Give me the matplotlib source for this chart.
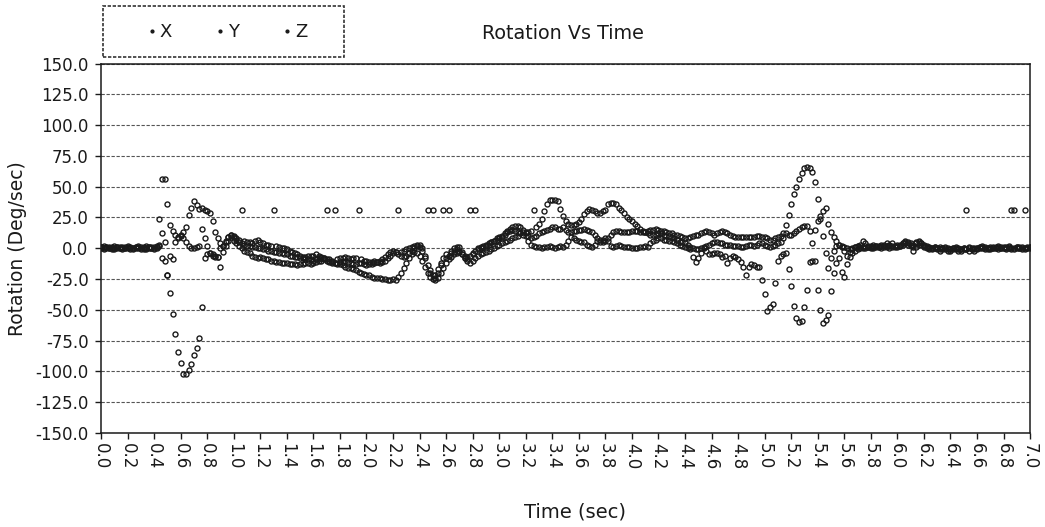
import numpy as np
import matplotlib.pyplot as plt
from matplotlib.lines import Line2D
from matplotlib.patches import Rectangle

# Gyro rotation rates, sampled every 0.02 s from 0.0 to 7.0 s
dt = 0.02
rot_x = [
    1, 0, 1, 1, 0, -1, 0, 1, 0, 0,
    1, 0, -1, 0, 1, 1, 0, -1, 0, 1,
    0, 1, 2, 12, 5, -22, -36, -53, -70, -84,
    -93, -102, -102, -99, -94, -87, -81, -73, -48, -8,
    -5, -4, -6, -7, -7, -15, -3, 2, 6, 9,
    6, 4, 2, 0, -2, -3, -4, -6, -7, -8,
    -7, -8, -9, -9, -10, -10, -11, -11, -12, -12,
    -12, -13, -13, -13, -14, -13, -13, -12, -12, -13,
    -12, -11, -10, -10, -9, -10, -11, -12, -12, -13,
    -13, -14, -15, -16, -16, -17, -18, -19, -20, -21,
    -22, -22, -23, -24, -24, -24, -25, -25, -26, -26,
    -25, -26, -23, -20, -16, -12, -8, -5, -3, -4,
    -6, -10, -15, -20, -23, -25, -26, -24, -20, -16,
    -12, -9, -7, -5, -4, -3, -5, -8, -10, -12,
    -10, -8, -6, -5, -4, -3, -2, -1, 0, 2,
    3, 4, 5, 6, 7, 8, 9, 10, 12, 13,
    10, 6, 3, 2, 1, 1, 0, 1, 1, 2,
    1, 0, 1, 2, 1, 3, 6, 9, 8, 7,
    6, 5, 5, 3, 2, 1, 3, 6, 7, 7,
    8, 6, 2, 1, 2, 3, 2, 1, 1, 1,
    0, 0, 0, 1, 1, 2, 1, 4, 6, 7,
    8, 8, 7, 7, 6, 6, 5, 4, 3, 2,
    1, 0, -1, -7, -11, -8, -4, 0, -2, -5,
    -5, -4, -4, -5, -7, -6, -12, -8, -6, -7,
    -9, -11, -15, -22, -15, -13, -14, -15, -15, -26,
    -37, -51, -48, -45, -28, -10, -6, -5, -4, -17,
    -31, -47, -57, -60, -59, -48, -34, -11, -10, -10,
    -34, -50, -61, -58, -54, -35, -20, -12, -8, -19,
    -23, -13, -7, -4, -2, -1, 0, 1, 0, 1,
    0, 1, 2, 1, 0, 1, 2, 3, 2, 1,
    2, 3, 4, 5, 4, 3, -2, 1, 3, 4,
    3, 2, 1, 0, 1, 0, -1, 0, 1, 0,
    -1, 0, -1, -2, -1, 0, -1, -2, -1, 0,
    0, 1, 0, -1, 0, 1, 0, 0, -1, 0,
    1, 0, 0, -1, 0, 1, 0, -1, 0, 1, 0,
]
rot_y = [
    0, -1, 0, 0, -1, 0, 1, 0, -1, 0,
    0, -1, 0, 1, 0, -1, -1, 0, 1, 0,
    -1, 0, 3, 56, 56, 36, 19, 14, 11, 9,
    10, 13, 17, 27, 33, 38, 35, 32, 33, 31,
    30, 29, 22, 13, 8, 4, 2, 6, 9, 11,
    10, 8, 7, 31, 6, 5, 5, 4, 6, 7,
    5, 4, 3, 3, 2, 31, 2, 1, 0, 0,
    -1, -2, -3, -4, -5, -6, -7, -7, -6, -6,
    -6, -5, -6, -7, -8, 31, -9, -10, 31, -9,
    -8, -8, -7, -8, -9, -8, -8, 31, -9, -10,
    -10, -11, -11, -10, -11, -12, -11, -10, -8, -6,
    -4, -3, 31, -3, -2, -1, 0, 1, 2, 3,
    3, 0, -6, -14, -20, 31, -22, -17, -12, -8,
    -5, 31, -2, 0, 1, -2, -5, -8, -9, -6,
    -4, 31, -1, 0, 1, 3, 4, 5, 6, 8,
    9, 10, 12, 13, 14, 15, 14, 13, 12, 11,
    12, 13, 14, 31, 17, 20, 24, 30, 36, 39,
    39, 39, 38, 32, 26, 22, 20, 19, 19, 20,
    21, 24, 28, 30, 32, 31, 30, 29, 29, 30,
    31, 36, 37, 37, 36, 33, 31, 29, 25, 24,
    22, 20, 18, 16, 14, 13, 12, 11, 11, 11,
    12, 12, 11, 10, 10, 9, 8, 7, 5, 5,
    4, 3, 1, 0, -1, -1, 0, 1, 2, 3,
    4, 5, 5, 4, 4, 3, 3, 3, 2, 2,
    2, 1, 1, 2, 3, 3, 2, 3, 4, 4,
    3, 2, 1, 2, 3, 4, 5, 8, 19, 27,
    36, 44, 50, 56, 61, 65, 66, 65, 62, 54,
    40, 24, 10, -4, -16, -8, -2, 2, 3, 2,
    1, 0, -1, 0, 1, 2, 3, 6, 4, 2,
    1, 0, 1, 2, 3, 2, 1, 0, 1, 2,
    3, 2, 4, 6, 5, 4, 3, 5, 6, 4,
    2, 1, 0, -1, 0, -1, -2, -1, 0, -1,
    -2, -1, 0, -1, -2, -1, -1, 0, -1, -2,
    -1, 0, 1, 0, -1, 0, 1, 0, 1, 0,
    0, -1, 1, 0, -1, 0, 1, 0, -1, 0, 1,
]
rot_z = [
    1, 2, 1, 0, 1, 2, 1, 0, 1, 1,
    2, 1, 0, 1, 2, 0, 1, 2, 1, 0,
    1, 2, 24, -8, -10, -22, -6, -9, 5, 8,
    11, 8, 5, 2, 0, 0, 1, 2, 16, 8,
    2, -4, -5, -6, -7, 0, 2, 5, 9, 11,
    9, 7, 5, 4, 3, 2, 2, 1, 1, 0,
    0, -1, -1, -2, -2, -3, -3, -4, -4, -5,
    -5, -6, -6, -7, -7, -8, -8, -9, -9, -9,
    -10, -9, -9, -8, -8, -9, -10, -11, -12, -12,
    -11, -11, -10, -11, -12, -13, -13, -12, -12, -13,
    -14, -13, -13, -12, -11, -10, -9, -7, -5, -3,
    -2, -3, -5, -6, -7, -6, -4, -2, 0, 2,
    1, -2, -8, 31, -18, -22, -24, -20, -14, 31,
    -8, -6, -4, -3, -1, 1, -3, -6, -7, 31,
    -5, -2, 0, 1, 2, 2, 3, 5, 6, 7,
    8, 9, 11, 14, 16, 17, 18, 18, 17, 15,
    13, 10, 8, 9, 10, 12, 13, 14, 15, 16,
    17, 17, 16, 16, 17, 15, 13, 13, 14, 14,
    15, 15, 16, 15, 14, 13, 11, 8, 5, 5,
    6, 8, 11, 13, 14, 14, 13, 13, 13, 13,
    14, 14, 14, 13, 13, 13, 14, 15, 15, 16,
    15, 14, 14, 13, 12, 12, 11, 11, 10, 9,
    8, 8, 9, 10, 11, 11, 12, 13, 14, 13,
    12, 11, 12, 13, 14, 13, 12, 11, 10, 9,
    9, 9, 9, 9, 9, 9, 9, 10, 10, 9,
    9, 8, 7, 7, 8, 9, 10, 12, 12, 11,
    11, 12, 14, 16, 17, 18, 18, 14, 4, 15,
    22, 26, 30, 33, 20, 13, 9, 6, 3, 1,
    -2, -6, -3, -1, 1, 2, 1, 0, 2, 1,
    2, 3, 2, 1, 2, 3, 4, 3, 4, 2,
    1, 2, 3, 4, 3, 2, 1, 4, 5, 3,
    1, 0, -1, 0, 1, 0, 1, 0, -1, -2,
    -1, 0, 1, 0, -1, 0, 31, 1, 0, -1,
    0, 1, 2, 1, 0, -1, 0, 1, 2, 1,
    0, 1, 2, 31, 31, 1, 0, 1, 31, 0, 1,
]
series = [("X", rot_x), ("Y", rot_y), ("Z", rot_z)]
time = np.arange(len(rot_x)) * dt

x_ticks = np.arange(0, 7.01, 0.2)
y_ticks = np.arange(-150, 151, 25)

plt.rcParams['font.family'] = ['DejaVu Sans']
ink = '#1a1a1a'

fig = plt.figure(figsize=(10.45, 5.27), dpi=100)
ax = fig.add_axes([0.0967, 0.1784, 0.889, 0.7011])

for name, vals in series:
    ax.plot(time, vals, linestyle='none', marker='o', markersize=3.6,
            markerfacecolor='none', markeredgecolor=ink, markeredgewidth=1.0,
            label=name)

ax.set_xlim(0, 7.0)
ax.set_ylim(-150, 150)
ax.set_xticks(x_ticks)
ax.set_xticklabels([f"{v:.1f}" for v in x_ticks], rotation=270)
ax.set_yticks(y_ticks)
ax.set_yticklabels([f"{v:.1f}" for v in y_ticks])
ax.tick_params(axis='both', direction='out', length=4, width=1, color=ink,
               labelsize=12, labelcolor=ink)
ax.tick_params(axis='y', pad=5)
ax.tick_params(axis='x', pad=3)

# horizontal gridlines only
ax.yaxis.grid(True, color='#555555', linestyle=(0, (3, 1.5)), linewidth=0.8)
ax.set_axisbelow(True)
for spine in ax.spines.values():
    spine.set_linestyle((0, (3, 1)))
    spine.set_color(ink)
    spine.set_linewidth(1.1)

ax.set_xlabel('Time (sec)', fontsize=14, color=ink)
ax.xaxis.set_label_coords(0.51, -0.187)
ax.set_ylabel('Rotation (Deg/sec)', fontsize=13.5, color=ink)
ax.yaxis.set_label_coords(-0.08, 0.5)

fig.text(563 / 1045, 1 - 34 / 527, 'Rotation Vs Time', ha='center', va='center',
         fontsize=13.8, color=ink)

# legend box above the plot
fig.patches.append(Rectangle((103 / 1045, 1 - 57 / 527), 241 / 1045, 51 / 527,
                             transform=fig.transFigure, fill=False,
                             edgecolor='#333333', linewidth=1.2,
                             linestyle=(0, (2, 1))))
handles = [Line2D([], [], linestyle='none', marker='o', markersize=2,
                  markerfacecolor=ink, markeredgecolor=ink) for _ in series]
fig.legend(handles, [s[0] for s in series], ncol=3, loc='center',
           bbox_to_anchor=(228 / 1045, 1 - 32 / 527), frameon=False,
           fontsize=13, handlelength=0.3, handletextpad=0.3,
           columnspacing=2.5, labelcolor=ink)

plt.savefig('out.png', dpi=100)
plt.close()
